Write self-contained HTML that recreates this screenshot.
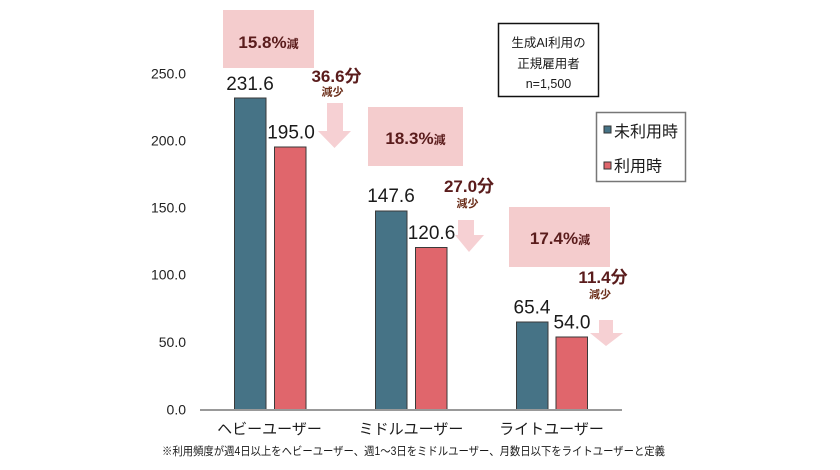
<!DOCTYPE html>
<html><head><meta charset="utf-8"><style>
html,body{margin:0;padding:0;background:#fff;}
svg{display:block;}
text{font-family:"Liberation Sans","Noto Sans CJK JP",sans-serif;}
</style></head><body>
<svg width="840" height="470" viewBox="0 0 840 470" xmlns="http://www.w3.org/2000/svg">
<rect width="840" height="470" fill="#fff"/>
<!-- y axis labels -->
<g font-size="14" fill="#222" text-anchor="end">
<text x="186" y="78.5">250.0</text>
<text x="186" y="145.5">200.0</text>
<text x="186" y="212.5">150.0</text>
<text x="186" y="279.5">100.0</text>
<text x="186" y="347">50.0</text>
<text x="186" y="414.5">0.0</text>
</g>
<!-- pink boxes -->
<rect x="223" y="10" width="91" height="58" fill="#F4CCCD"/>
<rect x="368" y="107" width="95" height="59" fill="#F4CCCD"/>
<rect x="509" y="207" width="101" height="60" fill="#F4CCCD"/>
<g fill="#5A1C1C" font-weight="bold" text-anchor="middle">
<text x="268.5" y="48" font-size="17">15.8%<tspan font-size="12">減</tspan></text>
<text x="415.5" y="144" font-size="17">18.3%<tspan font-size="12">減</tspan></text>
<text x="560" y="244" font-size="17">17.4%<tspan font-size="12">減</tspan></text>
</g>
<!-- arrows -->
<g fill="#F6D0D3">
<polygon points="327,103 343,103 343,131 351,131 334.5,148 318,131 327,131"/>
<polygon points="458,220 474,220 474,235 484,235 469,252 455,235 458,235"/>
<polygon points="599,320 613,320 613,333 623,333 606,346 590,333 599,333"/>
</g>
<!-- reduction labels -->
<g fill="#5A1C1C" font-weight="bold" text-anchor="middle">
<text x="336.5" y="82" font-size="17">36.6分</text>
<text x="469" y="192" font-size="17">27.0分</text>
<text x="603" y="283" font-size="17">11.4分</text>
</g>
<g fill="#6B2E1A" font-weight="bold" text-anchor="middle" font-size="11">
<text x="332.5" y="95.5">減少</text>
<text x="467.5" y="207">減少</text>
<text x="600" y="298">減少</text>
</g>
<!-- bars -->
<g stroke="#3a3a3a" stroke-width="1">
<rect x="234.5" y="98" width="31.5" height="312" fill="#467386"/>
<rect x="274.5" y="147" width="31.5" height="263" fill="#E0666C"/>
<rect x="375.5" y="211" width="31.5" height="199" fill="#467386"/>
<rect x="415.5" y="247.5" width="31.5" height="162.5" fill="#E0666C"/>
<rect x="516.5" y="322" width="31.5" height="88" fill="#467386"/>
<rect x="556" y="337" width="31.5" height="73" fill="#E0666C"/>
</g>
<!-- value labels -->
<g font-size="19" fill="#1a1a1a" text-anchor="middle">
<text x="250" y="90">231.6</text>
<text x="291" y="138.5">195.0</text>
<text x="391" y="202">147.6</text>
<text x="431.5" y="239">120.6</text>
<text x="532" y="313.5">65.4</text>
<text x="572" y="328.5">54.0</text>
</g>
<!-- axis -->
<line x1="200" y1="410" x2="622" y2="410" stroke="#999" stroke-width="2"/>
<!-- category labels -->
<g font-size="15" fill="#1a1a1a" text-anchor="middle">
<text x="269.5" y="434">ヘビーユーザー</text>
<text x="411" y="434">ミドルユーザー</text>
<text x="551.5" y="434">ライトユーザー</text>
</g>
<!-- footnote -->
<text x="162" y="455" font-size="11.5" fill="#1a1a1a" textLength="503" lengthAdjust="spacingAndGlyphs">※利用頻度が週4日以上をヘビーユーザー、週1～3日をミドルユーザー、月数日以下をライトユーザーと定義</text>
<!-- note box -->
<rect x="498.5" y="23.5" width="100" height="73" fill="#fff" stroke="#111" stroke-width="1.5"/>
<g font-size="12.5" fill="#1a1a1a" text-anchor="middle">
<text x="548.5" y="47">生成AI利用の</text>
<text x="548.5" y="68">正規雇用者</text>
<text x="548.5" y="88">n=1,500</text>
</g>
<!-- legend -->
<rect x="596.5" y="112.5" width="89" height="69" fill="#fff" stroke="#777" stroke-width="1.5"/>
<rect x="604" y="126" width="7" height="7" fill="#467386" stroke="#333" stroke-width="1"/>
<rect x="604" y="162" width="7" height="7" fill="#E0666C" stroke="#333" stroke-width="1"/>
<g font-size="16" fill="#1a1a1a">
<text x="614" y="137">未利用時</text>
<text x="614" y="171.5">利用時</text>
</g>
</svg>
</body></html>
